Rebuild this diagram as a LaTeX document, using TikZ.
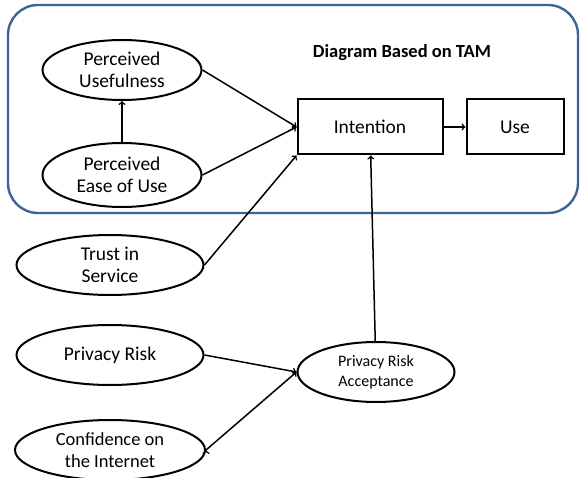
\documentclass[tikz,border=0pt]{standalone}
\usepackage{fontspec}
\setmainfont{Carlito}
\usepackage{tikz}
\usetikzlibrary{arrows}
\usetikzlibrary{positioning}
\usetikzlibrary{shapes.geometric}
\definecolor{frameblue}{RGB}{62,100,150}

\begin{document}
\begin{tikzpicture}[->,>=to,x=1pt,y=-1pt,line width=1.5pt,
                    factor/.style={ellipse,draw,line width=2pt,align=center,inner sep=0pt,
                                   font=\fontsize{19.5}{22}\selectfont},
                    stage/.style={rectangle,draw,line width=2pt,font=\fontsize{19.5}{22}\selectfont}]

  \useasboundingbox (0,0) rectangle (580,478);
  \draw[-,frameblue,line width=2.4pt,rounded corners=30pt] (8,5) rectangle (578,213);

  \node (title) at (402,53) {\fontsize{18.5}{20}\selectfont\bfseries Diagram Based on TAM};

  \node[factor,minimum width=159pt,minimum height=60pt] (PU) at (122,70) {Perceived\\Usefulness};
  \node[factor,minimum width=159pt,minimum height=64pt] (PEU) at (122,175) {Perceived\\Ease of Use};

  \node[stage,minimum width=145pt,minimum height=55pt] (I) at (370,127) {Intention};
  \node[stage,minimum width=97pt,minimum height=55pt] (U) at (515,127) {Use};

  \node[factor,minimum width=187pt,minimum height=60pt] (T) at (110,265) {Trust in\\Service};
  \node[factor,minimum width=187pt,minimum height=60pt] (PR) at (110,355) {Privacy Risk};
  \node[factor,minimum width=190pt,minimum height=60pt,font=\fontsize{18.5}{22}\selectfont] (C) at (110,450) {Confidence on\\the Internet};

  \node[factor,minimum width=157pt,minimum height=60pt,font=\fontsize{16}{20}\selectfont] (PRA) at (376,372) {Privacy Risk\\Acceptance};

  \draw
  	(PEU) edge (PU)
  	(PU.east) edge (I.west)
  	(PEU.east) edge (I.west)
  	(T.east) edge (I.south west)
  	(I) edge (U)
  	(PRA) edge (I)
  	(PR.east) edge (PRA.west)
  	(C.east) edge (PRA.west)
  	;
\end{tikzpicture}
\end{document}
